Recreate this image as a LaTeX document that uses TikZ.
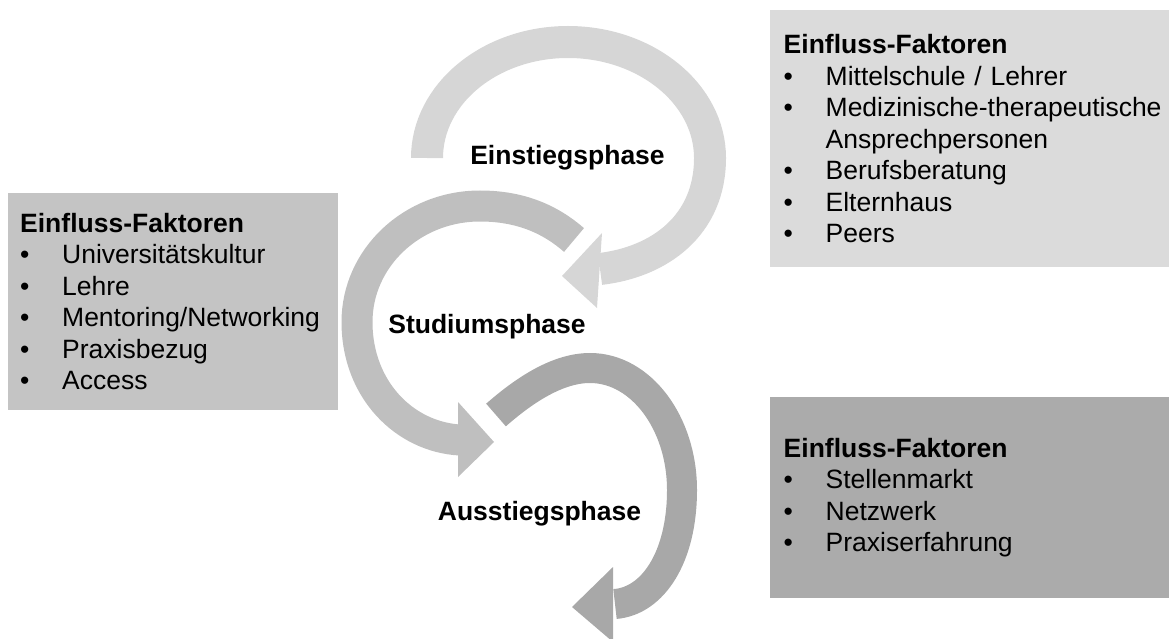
\documentclass[tikz,border=0pt]{standalone}
\usepackage{fontspec}
\setmainfont{Liberation Sans}
\usepackage{tikz}
\usetikzlibrary{positioning}
\definecolor{arrowone}{gray}{0.84}
\definecolor{arrowtwo}{gray}{0.75}
\definecolor{arrowthree}{gray}{0.66}
\definecolor{boxone}{gray}{0.86}
\definecolor{boxtwo}{gray}{0.77}
\definecolor{boxthree}{gray}{0.67}
\newcommand{\factoritem}[1]{\makebox[42pt][l]{\textbullet}#1}
\tikzstyle{factors} = [rectangle, anchor=north west, align=left, inner ysep=0pt, font=\fontsize{26.5}{31.5}\selectfont]
\tikzstyle{phase} = [anchor=base, inner sep=0pt, font=\bfseries\fontsize{26.5}{31.5}\selectfont]
\tikzstyle{band} = [line width=32pt]
\tikzstyle{head} = [line width=0pt]

\begin{document}
\begin{tikzpicture}[x=1pt, y=-1pt]
        \useasboundingbox (0,0) rectangle (1169,639);
        % phase arrows
        \draw[band, draw=arrowthree, line width=30pt] (496,415) .. controls (520,394) and (555,368) .. (590,368) .. controls (641,368) and (682,423) .. (682,490) .. controls (682,557) and (653,601) .. (615,604);
        \fill[head, arrowthree] (613,567) -- (572,607) -- (613,642) -- cycle;
        \draw[band, draw=arrowtwo, line width=31pt] (574,240) .. controls (550,219) and (520,206) .. (480,206) .. controls (412,206) and (357,258) .. (357,322) .. controls (357,390) and (405,437) .. (460,440);
        \fill[head, arrowtwo] (458,402) -- (494,442) -- (458,477) -- cycle;
        \draw[band, draw=arrowone] (427,158) .. controls (427,94) and (490,42) .. (568,42) .. controls (646,42) and (710,94) .. (710,158) .. controls (710,225) and (660,262) .. (600,269);
        \fill[head, arrowone] (602,233) -- (562,276) -- (597,308) -- cycle;
        % phase labels
        \node[phase] (einstieg) at (567.5,165) {Einstiegsphase};
        \node[phase] (studium) at (487,333) {Studiumsphase};
        \node[phase] (ausstieg) at (539.5,520) {Ausstiegsphase};
        % factor boxes
        \node[factors, fill=boxone, inner xsep=13.5pt, text width=385pt, minimum height=257pt] (einfaktor) at (770,10) {\textbf{Einfluss-Faktoren}\\
            \factoritem{Mittelschule / Lehrer}\\
            \factoritem{Medizinische-therapeutische}\\
            \hspace*{42pt}Ansprechpersonen\\
            \factoritem{Berufsberatung}\\
            \factoritem{Elternhaus}\\
            \factoritem{Peers}};
        \node[factors, fill=boxtwo, inner xsep=12pt, text width=306pt, minimum height=217pt] (studfaktor) at (8,193) {\textbf{Einfluss-Faktoren}\\
            \factoritem{Universitätskultur}\\
            \factoritem{Lehre}\\
            \factoritem{Mentoring/Networking}\\
            \factoritem{Praxisbezug}\\
            \factoritem{Access}};
        \node[factors, fill=boxthree, inner xsep=13.5pt, text width=385pt, minimum height=201pt] (ausfaktor) at (770,397) {\textbf{Einfluss-Faktoren}\\
            \factoritem{Stellenmarkt}\\
            \factoritem{Netzwerk}\\
            \factoritem{Praxiserfahrung}};
    \end{tikzpicture}
\end{document}
